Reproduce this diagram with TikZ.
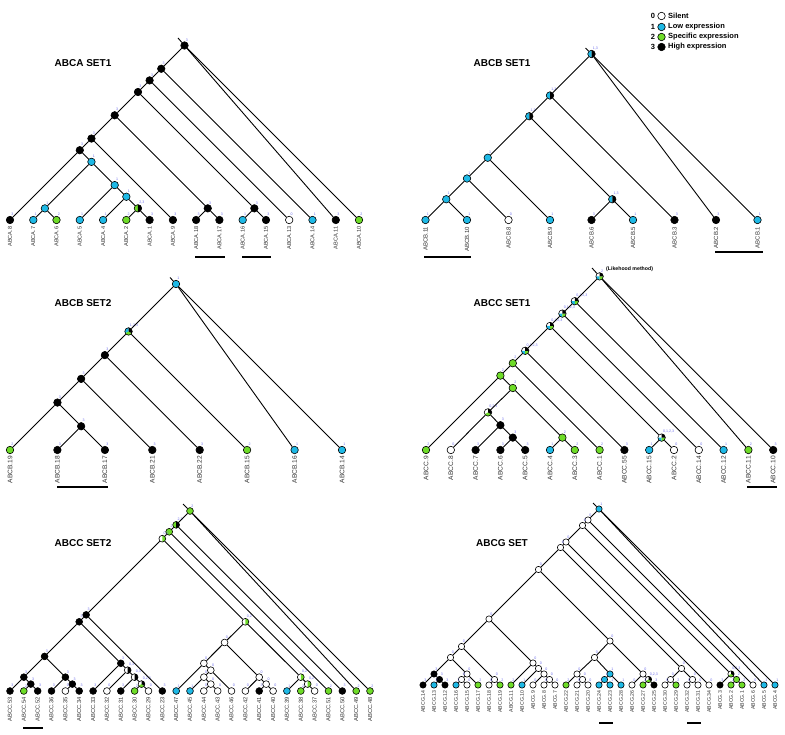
\documentclass[tikz,border=0pt]{standalone}
\usepackage{fontspec}
\setmainfont{Liberation Sans}

\definecolor{lowc}{RGB}{30,185,230}
\definecolor{specc}{RGB}{110,220,40}
\definecolor{statec}{RGB}{110,110,235}
\definecolor{labc}{RGB}{50,50,50}

\tikzset{
  st/.style={circle, draw=black, line width=0.6pt, inner sep=0pt, minimum size=7.5pt},
  stlab/.style={font=\fontsize{3.6}{3.8}\selectfont, text=statec, inner sep=0.2pt},
  f0/.style={st, fill=white},
  f1/.style={st, fill=lowc},
  f2/.style={st, fill=specc},
  f3/.style={st, fill=black},
  s0/.style={f0, label={[stlab]75:0}},
  s1/.style={f1, label={[stlab]75:1}},
  s2/.style={f2, label={[stlab]75:2}},
  s3/.style={f3, label={[stlab]75:3}},
  pieb/.style n args={3}{st, label={[stlab]75:#3}, path picture={
      \fill[#1] (path picture bounding box.center) -- ++(90:5pt) arc[start angle=90, end angle=270, radius=5pt] -- cycle;
      \fill[#2] (path picture bounding box.center) -- ++(270:5pt) arc[start angle=270, end angle=450, radius=5pt] -- cycle;}},
  piec/.style n args={4}{st, label={[stlab]75:#4}, path picture={
      \fill[#1] (path picture bounding box.center) -- ++(90:5pt) arc[start angle=90, end angle=210, radius=5pt] -- cycle;
      \fill[#2] (path picture bounding box.center) -- ++(210:5pt) arc[start angle=210, end angle=330, radius=5pt] -- cycle;
      \fill[#3] (path picture bounding box.center) -- ++(330:5pt) arc[start angle=330, end angle=450, radius=5pt] -- cycle;}},
  pied/.style n args={5}{st, label={[stlab]75:#5}, path picture={
      \fill[#1] (path picture bounding box.center) -- ++(90:5pt) arc[start angle=90, end angle=180, radius=5pt] -- cycle;
      \fill[#2] (path picture bounding box.center) -- ++(180:5pt) arc[start angle=180, end angle=270, radius=5pt] -- cycle;
      \fill[#3] (path picture bounding box.center) -- ++(270:5pt) arc[start angle=270, end angle=360, radius=5pt] -- cycle;
      \fill[#4] (path picture bounding box.center) -- ++(0:5pt) arc[start angle=0, end angle=90, radius=5pt] -- cycle;}},
  lab/.style={rotate=90, anchor=east, inner sep=0pt, text=labc, font=\fontsize{5.6}{6}\selectfont},
  ttl/.style={font=\fontsize{10}{12}\selectfont\bfseries},
  legtxt/.style={font=\fontsize{7.5}{9}\selectfont\bfseries, inner sep=0pt},
  bar/.style={line width=1.4pt},
}

\begin{document}
\begin{tikzpicture}[x=1pt, y=-1pt, every edge/.style={draw, line width=0.9pt}]
  \useasboundingbox (0,0) rectangle (785,735);

  % legend
  \node[legtxt] (k0) at (653,16) {0};
  \node[legtxt] (k1) at (653,27) {1};
  \node[legtxt] (k2) at (653,37) {2};
  \node[legtxt] (k3) at (653,47) {3};
  \node[f0, minimum size=7.5pt] (kc0) at (661.5,16) {};
  \node[f1, minimum size=7.5pt] (kc1) at (661.5,27) {};
  \node[f2, minimum size=7.5pt] (kc2) at (661.5,37) {};
  \node[f3, minimum size=7.5pt] (kc3) at (661.5,47) {};
  \node[legtxt, anchor=west] (kt0) at (668,16) {Silent};
  \node[legtxt, anchor=west] (kt1) at (668,27) {Low expression};
  \node[legtxt, anchor=west] (kt2) at (668,37) {Specific expression};
  \node[legtxt, anchor=west] (kt3) at (668,47) {High expression};

  % ABCA SET1
  \begin{scope}
    \node[ttl] (tA) at (83,63) {ABCA SET1};
    \node[s3] (aR) at (184.5,45.5) {};
    \node[s3] (a1) at (161.25,68.75) {};
    \node[s3] (a2) at (149.6,80.4) {};
    \node[s3] (a3) at (138,92) {};
    \node[s3] (a4) at (114.7,115.3) {};
    \node[s3] (a5) at (91.45,138.55) {};
    \node[s3] (a6) at (79.8,150.2) {};
    \node[s1] (a7) at (91.45,161.85) {};
    \node[s1] (a8) at (44.9,208.4) {};
    \node[s1] (a9) at (114.7,185.1) {};
    \node[s1] (a10) at (126.35,196.75) {};
    \node[pieb={specc}{black}{2,3}] (a11) at (137.95,208.35) {};
    \node[s3] (a12) at (207.75,208.35) {};
    \node[s3] (a13) at (254.35,208.35) {};
    \node[s3] (A8)  at (10,220) {};    \node[lab] (A8t)  at (10,226.5) {ABCA.8};
    \node[s1] (A7)  at (33.3,220) {};  \node[lab] (A7t)  at (33.3,226.5) {ABCA.7};
    \node[s2] (A6)  at (56.5,220) {};  \node[lab] (A6t)  at (56.5,226.5) {ABCA.6};
    \node[s1] (A5)  at (79.8,220) {};  \node[lab] (A5t)  at (79.8,226.5) {ABCA.5};
    \node[s1] (A4)  at (103.1,220) {}; \node[lab] (A4t)  at (103.1,226.5) {ABCA.4};
    \node[s2] (A2)  at (126.3,220) {}; \node[lab] (A2t)  at (126.3,226.5) {ABCA.2};
    \node[s3] (A1)  at (149.6,220) {}; \node[lab] (A1t)  at (149.6,226.5) {ABCA.1};
    \node[s3] (A9)  at (172.9,220) {}; \node[lab] (A9t)  at (172.9,226.5) {ABCA.9};
    \node[s3] (A18) at (196.1,220) {}; \node[lab] (A18t) at (196.1,226.5) {ABCA.18};
    \node[s3] (A17) at (219.4,220) {}; \node[lab] (A17t) at (219.4,226.5) {ABCA.17};
    \node[s1] (A16) at (242.7,220) {}; \node[lab] (A16t) at (242.7,226.5) {ABCA.16};
    \node[s3] (A15) at (266,220) {};   \node[lab] (A15t) at (266,226.5) {ABCA.15};
    \node[s0] (A13) at (289.2,220) {}; \node[lab] (A13t) at (289.2,226.5) {ABCA.13};
    \node[s1] (A14) at (312.5,220) {}; \node[lab] (A14t) at (312.5,226.5) {ABCA.14};
    \node[s3] (A11) at (335.8,220) {}; \node[lab] (A11t) at (335.8,226.5) {ABCA.11};
    \node[s2] (A10) at (359,220) {};   \node[lab] (A10t) at (359,226.5) {ABCA.10};
    \coordinate (aS) at (178,38);
    \draw[line width=0.9pt] (aS) -- (aR);
    \path (aR) edge (a1) edge (A11) edge (A10);
    \path (a1) edge (a2) edge (A14);
    \path (a2) edge (a3) edge (A13);
    \path (a3) edge (a4) edge (a13);
    \path (a4) edge (a5) edge (a12);
    \path (a5) edge (a6) edge (A9);
    \path (a6) edge (A8) edge (a7);
    \path (a7) edge (a8) edge (a9);
    \path (a8) edge (A7) edge (A6);
    \path (a9) edge (A5) edge (a10);
    \path (a10) edge (A4) edge (a11);
    \path (a11) edge (A2) edge (A1);
    \path (a12) edge (A18) edge (A17);
    \path (a13) edge (A16) edge (A15);
    \draw[bar] (195,257) -- (225,257);
    \draw[bar] (242,257) -- (271,257);
  \end{scope}

  % ABCB SET1
  \begin{scope}[lab/.append style={font=\fontsize{6}{6}\selectfont}]
    \node[ttl] (tB) at (502,63) {ABCB SET1};
    \node[pieb={lowc}{black}{1,3}] (bR) at (591.5,54) {};
    \node[pieb={lowc}{black}{1,3}] (b1) at (550,95.5) {};
    \node[pieb={lowc}{black}{1,3}] (b2) at (529.25,116.25) {};
    \node[s1] (b3) at (487.75,157.75) {};
    \node[s1] (b4) at (467,178.5) {};
    \node[s1] (b5) at (446.25,199.25) {};
    \node[pieb={lowc}{black}{1,3}] (b6) at (612.25,199.25) {};
    \node[s1] (B11) at (425.5,220) {}; \node[lab] (B11t) at (425.5,226.5) {ABCB.11};
    \node[s1] (B10) at (467,220) {};   \node[lab] (B10t) at (467,226.5) {ABCB.10};
    \node[s0] (B8)  at (508.5,220) {}; \node[lab] (B8t)  at (508.5,226.5) {ABCB.8};
    \node[s1] (B9)  at (550,220) {};   \node[lab] (B9t)  at (550,226.5) {ABCB.9};
    \node[s3] (B6)  at (591.5,220) {}; \node[lab] (B6t)  at (591.5,226.5) {ABCB.6};
    \node[s1] (B5)  at (633,220) {};   \node[lab] (B5t)  at (633,226.5) {ABCB.5};
    \node[s3] (B3)  at (674.5,220) {}; \node[lab] (B3t)  at (674.5,226.5) {ABCB.3};
    \node[s3] (B2)  at (716,220) {};   \node[lab] (B2t)  at (716,226.5) {ABCB.2};
    \node[s1] (B1)  at (757.5,220) {}; \node[lab] (B1t)  at (757.5,226.5) {ABCB.1};
    \coordinate (bS) at (585.5,48);
    \draw[line width=0.9pt] (bS) -- (bR);
    \path (bR) edge (b1) edge (B2) edge (B1);
    \path (b1) edge (b2) edge (B3);
    \path (b2) edge (b3) edge (b6);
    \path (b3) edge (b4) edge (B9);
    \path (b4) edge (b5) edge (B8);
    \path (b5) edge (B11) edge (B10);
    \path (b6) edge (B6) edge (B5);
    \draw[bar] (424,257) -- (471,257);
    \draw[bar] (715,252) -- (763,252);
  \end{scope}

  % ABCB SET2
  \begin{scope}[lab/.append style={font=\fontsize{6.6}{7}\selectfont}]
    \node[ttl] (tBB) at (83,303) {ABCB SET2};
    \node[s1] (bbR) at (176,284) {};
    \node[piec={lowc}{specc}{black}{1,2,3}] (bb1) at (128.55,331.45) {};
    \node[s3] (bb2) at (104.85,355.15) {};
    \node[s3] (bb3) at (81.15,378.85) {};
    \node[s3] (bb4) at (57.45,402.55) {};
    \node[s3] (bb5) at (81.15,426.25) {};
    \node[s2] (BB19) at (10,450) {};    \node[lab] (BB19t) at (10,456) {ABCB.19};
    \node[s3] (BB18) at (57.4,450) {};  \node[lab] (BB18t) at (57.4,456) {ABCB.18};
    \node[s3] (BB17) at (104.9,450) {}; \node[lab] (BB17t) at (104.9,456) {ABCB.17};
    \node[s3] (BB21) at (152.3,450) {}; \node[lab] (BB21t) at (152.3,456) {ABCB.21};
    \node[s3] (BB22) at (199.7,450) {}; \node[lab] (BB22t) at (199.7,456) {ABCB.22};
    \node[s2] (BB15) at (247.1,450) {}; \node[lab] (BB15t) at (247.1,456) {ABCB.15};
    \node[s1] (BB16) at (294.6,450) {}; \node[lab] (BB16t) at (294.6,456) {ABCB.16};
    \node[s1] (BB14) at (342,450) {};   \node[lab] (BB14t) at (342,456) {ABCB.14};
    \coordinate (bbS) at (170,277.5);
    \draw[line width=0.9pt] (bbS) -- (bbR);
    \path (bbR) edge (bb1) edge (BB16) edge (BB14);
    \path (bb1) edge (bb2) edge (BB15);
    \path (bb2) edge (bb3) edge (BB22);
    \path (bb3) edge (bb4) edge (BB21);
    \path (bb4) edge (BB19) edge (bb5);
    \path (bb5) edge (BB18) edge (BB17);
    \draw[bar] (57,487) -- (108,487);
  \end{scope}

  % ABCC SET1
  \begin{scope}[lab/.append style={font=\fontsize{6.6}{7}\selectfont}]
    \node[ttl] (tC) at (502,303) {ABCC SET1};
    \node[pied={white}{lowc}{specc}{black}{2}] (cR) at (599.6,276.4) {};
    \node[anchor=west, inner sep=0pt, font=\fontsize{5.2}{6}\selectfont\bfseries] (cM) at (606,269) {(Likehood method)};
    \node[pied={white}{lowc}{specc}{black}{0,1,2,3}] (c1) at (574.8,301.2) {};
    \node[pied={white}{lowc}{specc}{black}{0,1,2,3}] (c2) at (562.4,313.6) {};
    \node[pied={white}{lowc}{specc}{black}{0,1,2,3}] (c3) at (550,326) {};
    \node[pied={white}{lowc}{specc}{black}{0,1,2,3}] (c4) at (525.2,350.8) {};
    \node[s2] (c5) at (512.8,363.2) {};
    \node[s2] (c6) at (500.4,375.6) {};
    \node[s2] (c7) at (512.8,388) {};
    \node[piec={white}{specc}{black}{0,2,3}] (c8) at (488,412.4) {};
    \node[s3] (c9) at (500.4,425.2) {};
    \node[s3] (c10) at (512.8,437.6) {};
    \node[s2] (c11) at (562.4,437.6) {};
    \node[pied={white}{lowc}{specc}{black}{0,1,2,3}] (c12) at (661.6,437.6) {};
    \node[s2] (C9)  at (426,450) {};   \node[lab] (C9t)  at (426,456) {ABCC.9};
    \node[s0] (C8)  at (450.8,450) {}; \node[lab] (C8t)  at (450.8,456) {ABCC.8};
    \node[s3] (C7)  at (475.6,450) {}; \node[lab] (C7t)  at (475.6,456) {ABCC.7};
    \node[s3] (C6)  at (500.4,450) {}; \node[lab] (C6t)  at (500.4,456) {ABCC.6};
    \node[s3] (C5)  at (525.2,450) {}; \node[lab] (C5t)  at (525.2,456) {ABCC.5};
    \node[s1] (C4)  at (550,450) {};   \node[lab] (C4t)  at (550,456) {ABCC.4};
    \node[s2] (C3)  at (574.8,450) {}; \node[lab] (C3t)  at (574.8,456) {ABCC.3};
    \node[s2] (C1)  at (599.6,450) {}; \node[lab] (C1t)  at (599.6,456) {ABCC.1};
    \node[s3] (C55) at (624.4,450) {}; \node[lab] (C55t) at (624.4,456) {ABCC.55};
    \node[s1] (C15) at (649.2,450) {}; \node[lab] (C15t) at (649.2,456) {ABCC.15};
    \node[s0] (C2)  at (674,450) {};   \node[lab] (C2t)  at (674,456) {ABCC.2};
    \node[s0] (C14) at (698.8,450) {}; \node[lab] (C14t) at (698.8,456) {ABCC.14};
    \node[s1] (C12) at (723.6,450) {}; \node[lab] (C12t) at (723.6,456) {ABCC.12};
    \node[s2] (C11) at (748.4,450) {}; \node[lab] (C11t) at (748.4,456) {ABCC.11};
    \node[s3] (C10) at (773.2,450) {}; \node[lab] (C10t) at (773.2,456) {ABCC.10};
    \coordinate (cS) at (592,268);
    \draw[line width=0.9pt] (cS) -- (cR);
    \path (cR) edge (c1) edge (C11) edge (C10);
    \path (c1) edge (c2) edge (C12);
    \path (c2) edge (c3) edge (C14);
    \path (c3) edge (c4) edge (c12);
    \path (c4) edge (c5) edge (C55);
    \path (c5) edge (c6) edge (C1);
    \path (c6) edge (C9) edge (c7);
    \path (c7) edge (c8) edge (c11);
    \path (c8) edge (C8) edge (c9);
    \path (c9) edge (C7) edge (c10);
    \path (c10) edge (C6) edge (C5);
    \path (c11) edge (C4) edge (C3);
    \path (c12) edge (C15) edge (C2);
    \draw[bar] (747,487) -- (777,487);
  \end{scope}

  % ABCC SET2
  \begin{scope}[st/.append style={minimum size=6.8pt}, lab/.append style={font=\fontsize{5.8}{6}\selectfont}]
    \node[ttl] (tCC) at (83,543) {ABCC SET2};
    \node[s2] (ccR) at (190,511) {};
    \node[pieb={specc}{black}{2,3}] (cc1) at (176.15,524.85) {};
    \node[s2] (cc2) at (169.2,531.8) {};
    \node[pieb={white}{specc}{0,2}] (cc3) at (162.3,538.7) {};
    \node[s3] (cc4) at (86.15,614.85) {};
    \node[s3] (cc5) at (79.2,621.8) {};
    \node[s3] (cc6) at (44.6,656.4) {};
    \node[s3] (cc7) at (23.85,677.15) {};
    \node[s3] (cc8) at (30.8,684.1) {};
    \node[s3] (cc9) at (65.4,677.15) {};
    \node[s3] (cc10) at (72.3,684.1) {};
    \node[s3] (cc11) at (120.8,663.3) {};
    \node[pieb={white}{black}{0,3}] (cc12) at (127.7,670.2) {};
    \node[pieb={white}{black}{0,3}] (cc13) at (134.6,677.15) {};
    \node[piec={white}{specc}{black}{0,2,3}] (cc14) at (141.5,684.1) {};
    \node[pieb={white}{specc}{0,2}] (cc17) at (245.4,621.8) {};
    \node[s0] (cc18) at (224.6,642.5) {};
    \node[s0] (cc19) at (203.85,663.3) {};
    \node[s0] (cc20) at (210.8,670.2) {};
    \node[s0] (cc21) at (203.85,677.15) {};
    \node[s0] (cc26) at (210.8,684.1) {};
    \node[s0] (cc22) at (259.2,677.15) {};
    \node[s0] (cc23) at (266.15,684.1) {};
    \node[pieb={white}{specc}{0,2}] (cc24) at (300.8,677.15) {};
    \node[pieb={white}{specc}{0,2}] (cc25) at (307.7,684.1) {};
    \node[s3] (CC53) at (10,691) {};    \node[lab] (CC53t) at (10,697) {ABCC.53};
    \node[s2] (CC54) at (23.8,691) {};  \node[lab] (CC54t) at (23.8,697) {ABCC.54};
    \node[s3] (CC52) at (37.7,691) {};  \node[lab] (CC52t) at (37.7,697) {ABCC.52};
    \node[s3] (CC36) at (51.5,691) {};  \node[lab] (CC36t) at (51.5,697) {ABCC.36};
    \node[s0] (CC35) at (65.4,691) {};  \node[lab] (CC35t) at (65.4,697) {ABCC.35};
    \node[s3] (CC34) at (79.2,691) {};  \node[lab] (CC34t) at (79.2,697) {ABCC.34};
    \node[s3] (CC33) at (93.1,691) {};  \node[lab] (CC33t) at (93.1,697) {ABCC.33};
    \node[s0] (CC32) at (106.9,691) {}; \node[lab] (CC32t) at (106.9,697) {ABCC.32};
    \node[s3] (CC31) at (120.8,691) {}; \node[lab] (CC31t) at (120.8,697) {ABCC.31};
    \node[s2] (CC30) at (134.6,691) {}; \node[lab] (CC30t) at (134.6,697) {ABCC.30};
    \node[s0] (CC29) at (148.5,691) {}; \node[lab] (CC29t) at (148.5,697) {ABCC.29};
    \node[s3] (CC23) at (162.3,691) {}; \node[lab] (CC23t) at (162.3,697) {ABCC.23};
    \node[s1] (CC47) at (176.2,691) {}; \node[lab] (CC47t) at (176.2,697) {ABCC.47};
    \node[s1] (CC45) at (190,691) {};   \node[lab] (CC45t) at (190,697) {ABCC.45};
    \node[s0] (CC44) at (203.8,691) {}; \node[lab] (CC44t) at (203.8,697) {ABCC.44};
    \node[s0] (CC43) at (217.7,691) {}; \node[lab] (CC43t) at (217.7,697) {ABCC.43};
    \node[s0] (CC46) at (231.5,691) {}; \node[lab] (CC46t) at (231.5,697) {ABCC.46};
    \node[s0] (CC42) at (245.4,691) {}; \node[lab] (CC42t) at (245.4,697) {ABCC.42};
    \node[s3] (CC41) at (259.2,691) {}; \node[lab] (CC41t) at (259.2,697) {ABCC.41};
    \node[s0] (CC40) at (273.1,691) {}; \node[lab] (CC40t) at (273.1,697) {ABCC.40};
    \node[s1] (CC39) at (286.9,691) {}; \node[lab] (CC39t) at (286.9,697) {ABCC.39};
    \node[s2] (CC38) at (300.8,691) {}; \node[lab] (CC38t) at (300.8,697) {ABCC.38};
    \node[s0] (CC37) at (314.6,691) {}; \node[lab] (CC37t) at (314.6,697) {ABCC.37};
    \node[s2] (CC51) at (328.5,691) {}; \node[lab] (CC51t) at (328.5,697) {ABCC.51};
    \node[s3] (CC50) at (342.3,691) {}; \node[lab] (CC50t) at (342.3,697) {ABCC.50};
    \node[s2] (CC49) at (356.2,691) {}; \node[lab] (CC49t) at (356.2,697) {ABCC.49};
    \node[s2] (CC48) at (370,691) {};   \node[lab] (CC48t) at (370,697) {ABCC.48};
    \coordinate (ccS) at (183,504);
    \draw[line width=0.9pt] (ccS) -- (ccR);
    \path (ccR) edge (cc1) edge (CC49) edge (CC48);
    \path (cc1) edge (cc2) edge (CC50);
    \path (cc2) edge (cc3) edge (CC51);
    \path (cc3) edge (cc4) edge (cc17);
    \path (cc4) edge (cc5) edge (CC23);
    \path (cc5) edge (cc6) edge (cc11);
    \path (cc6) edge (cc7) edge (cc9);
    \path (cc7) edge (CC53) edge (cc8);
    \path (cc8) edge (CC54) edge (CC52);
    \path (cc9) edge (CC36) edge (cc10);
    \path (cc10) edge (CC35) edge (CC34);
    \path (cc11) edge (CC33) edge (cc12);
    \path (cc12) edge (CC32) edge (cc13);
    \path (cc13) edge (CC31) edge (cc14);
    \path (cc14) edge (CC30) edge (CC29);
    \path (cc17) edge (cc18) edge (cc24);
    \path (cc18) edge (cc19) edge (cc22);
    \path (cc19) edge (CC47) edge (cc20);
    \path (cc20) edge (cc21) edge (CC46);
    \path (cc21) edge (CC45) edge (cc26);
    \path (cc26) edge (CC44) edge (CC43);
    \path (cc22) edge (CC42) edge (cc23);
    \path (cc23) edge (CC41) edge (CC40);
    \path (cc24) edge (CC39) edge (cc25);
    \path (cc25) edge (CC38) edge (CC37);
    \draw[bar] (23,728) -- (43,728);
  \end{scope}

  % ABCG SET
  \begin{scope}[st/.append style={minimum size=6.3pt}, lab/.append style={font=\fontsize{5.2}{6}\selectfont}]
    \node[ttl] (tG) at (502,543) {ABCG SET};
    \node[s1] (gR) at (599,509) {};
    \node[s0] (g1) at (588,520) {};
    \node[s0] (g2) at (582.5,525.5) {};
    \node[s0] (g3) at (566,542) {};
    \node[s0] (g4) at (560.5,547.5) {};
    \node[s0] (g5) at (538.5,569.5) {};
    \node[s0] (g6) at (489,619) {};
    \node[s0] (g7) at (461.5,646.5) {};
    \node[s0] (g8) at (450.5,657.5) {};
    \node[s3] (g9) at (434,674) {};
    \node[s3] (g11) at (439.5,679.5) {};
    \node[s0] (g10) at (467,674) {};
    \node[s0] (g14) at (461.5,679.5) {};
    \node[s0] (g12) at (494.5,679.5) {};
    \node[s0] (g13) at (533,663) {};
    \node[s0] (g15) at (538.5,668.5) {};
    \node[s0] (g16) at (544,674) {};
    \node[s0] (g17) at (549.5,679.5) {};
    \node[s0] (g18) at (610,641) {};
    \node[s0] (g19) at (594.5,657.5) {};
    \node[s0] (g20) at (577,674) {};
    \node[s0] (g22) at (582.5,679.5) {};
    \node[s1] (g21) at (610,674) {};
    \node[s1] (g24) at (604.5,679.5) {};
    \node[s0] (g23) at (643,674) {};
    \node[piec={white}{specc}{black}{0,2,3}] (g25) at (648.5,679.5) {};
    \node[s0] (g27) at (681.5,668.5) {};
    \node[s0] (g28) at (670.5,679.5) {};
    \node[s0] (g29) at (692.5,679.5) {};
    \node[piec={white}{specc}{black}{0,2,3}] (g30) at (731,674) {};
    \node[s2] (g31) at (736.5,679.5) {};
    \node[s3] (G14) at (423,685) {}; \node[lab] (G14t) at (423,690.5) {ABCG.14};
    \node[s1] (G13) at (434,685) {}; \node[lab] (G13t) at (434,690.5) {ABCG.13};
    \node[s3] (G12) at (445,685) {}; \node[lab] (G12t) at (445,690.5) {ABCG.12};
    \node[s1] (G16) at (456,685) {}; \node[lab] (G16t) at (456,690.5) {ABCG.16};
    \node[s0] (G15) at (467,685) {}; \node[lab] (G15t) at (467,690.5) {ABCG.15};
    \node[s2] (G17) at (478,685) {}; \node[lab] (G17t) at (478,690.5) {ABCG.17};
    \node[s0] (G18) at (489,685) {}; \node[lab] (G18t) at (489,690.5) {ABCG.18};
    \node[s2] (G19) at (500,685) {}; \node[lab] (G19t) at (500,690.5) {ABCG.19};
    \node[s2] (G11) at (511,685) {}; \node[lab] (G11t) at (511,690.5) {ABCG.11};
    \node[s1] (G10) at (522,685) {}; \node[lab] (G10t) at (522,690.5) {ABCG.10};
    \node[s0] (G9)  at (533,685) {}; \node[lab] (G9t)  at (533,690.5) {ABCG.9};
    \node[s0] (G8)  at (544,685) {}; \node[lab] (G8t)  at (544,690.5) {ABCG.8};
    \node[s0] (G7)  at (555,685) {}; \node[lab] (G7t)  at (555,690.5) {ABCG.7};
    \node[s2] (G22) at (566,685) {}; \node[lab] (G22t) at (566,690.5) {ABCG.22};
    \node[s0] (G21) at (577,685) {}; \node[lab] (G21t) at (577,690.5) {ABCG.21};
    \node[s0] (G20) at (588,685) {}; \node[lab] (G20t) at (588,690.5) {ABCG.20};
    \node[s1] (G24) at (599,685) {}; \node[lab] (G24t) at (599,690.5) {ABCG.24};
    \node[s1] (G23) at (610,685) {}; \node[lab] (G23t) at (610,690.5) {ABCG.23};
    \node[s1] (G28) at (621,685) {}; \node[lab] (G28t) at (621,690.5) {ABCG.28};
    \node[s0] (G26) at (632,685) {}; \node[lab] (G26t) at (632,690.5) {ABCG.26};
    \node[s2] (G27) at (643,685) {}; \node[lab] (G27t) at (643,690.5) {ABCG.27};
    \node[s3] (G25) at (654,685) {}; \node[lab] (G25t) at (654,690.5) {ABCG.25};
    \node[s0] (G30) at (665,685) {}; \node[lab] (G30t) at (665,690.5) {ABCG.30};
    \node[s2] (G29) at (676,685) {}; \node[lab] (G29t) at (676,690.5) {ABCG.29};
    \node[s0] (G32) at (687,685) {}; \node[lab] (G32t) at (687,690.5) {ABCG.32};
    \node[s0] (G31) at (698,685) {}; \node[lab] (G31t) at (698,690.5) {ABCG.31};
    \node[s0] (G34) at (709,685) {}; \node[lab] (G34t) at (709,690.5) {ABCG.34};
    \node[s3] (G3)  at (720,685) {}; \node[lab] (G3t)  at (720,690.5) {ABCG.3};
    \node[s2] (G2)  at (731,685) {}; \node[lab] (G2t)  at (731,690.5) {ABCG.2};
    \node[s2] (G1)  at (742,685) {}; \node[lab] (G1t)  at (742,690.5) {ABCG.1};
    \node[s0] (G6)  at (753,685) {}; \node[lab] (G6t)  at (753,690.5) {ABCG.6};
    \node[s1] (G5)  at (764,685) {}; \node[lab] (G5t)  at (764,690.5) {ABCG.5};
    \node[s1] (G4)  at (775,685) {}; \node[lab] (G4t)  at (775,690.5) {ABCG.4};
    \coordinate (gS) at (593,503);
    \draw[line width=0.9pt] (gS) -- (gR);
    \path (gR) edge (g1) edge (G5) edge (G4);
    \path (g1) edge (g2) edge (G6);
    \path (g2) edge (g3) edge (g30);
    \path (g3) edge (g4) edge (G34);
    \path (g4) edge (g5) edge (g27);
    \path (g5) edge (g6) edge (g18);
    \path (g6) edge (g7) edge (g13);
    \path (g7) edge (g8) edge (g12);
    \path (g8) edge (g9) edge (g10);
    \path (g9) edge (G14) edge (g11);
    \path (g11) edge (G13) edge (G12);
    \path (g10) edge (g14) edge (G17);
    \path (g14) edge (G16) edge (G15);
    \path (g12) edge (G18) edge (G19);
    \path (g13) edge (G11) edge (g15);
    \path (g15) edge (G10) edge (g16);
    \path (g16) edge (G9) edge (g17);
    \path (g17) edge (G8) edge (G7);
    \path (g18) edge (g19) edge (g23);
    \path (g19) edge (g20) edge (g21);
    \path (g20) edge (G22) edge (g22);
    \path (g22) edge (G21) edge (G20);
    \path (g21) edge (g24) edge (G28);
    \path (g24) edge (G24) edge (G23);
    \path (g23) edge (G26) edge (g25);
    \path (g25) edge (G27) edge (G25);
    \path (g27) edge (g28) edge (g29);
    \path (g28) edge (G30) edge (G29);
    \path (g29) edge (G32) edge (G31);
    \path (g30) edge (G3) edge (g31);
    \path (g31) edge (G2) edge (G1);
    \draw[bar] (599,723) -- (613,723);
    \draw[bar] (687,723) -- (701,723);
  \end{scope}
\end{tikzpicture}
\end{document}
